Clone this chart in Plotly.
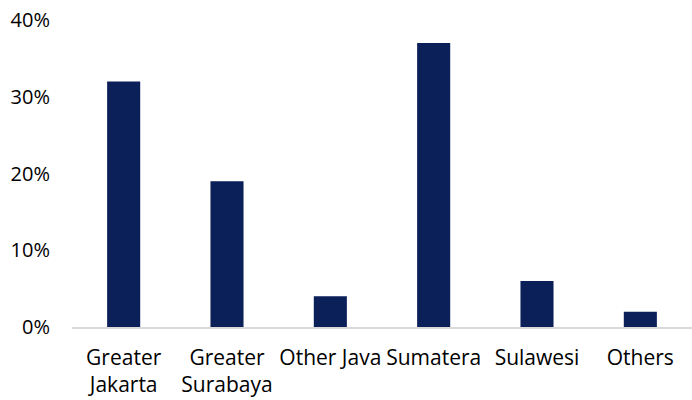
import plotly.graph_objects as go

categories = ["Greater<br>Jakarta", "Greater<br>Surabaya", "Other Java", "Sumatera", "Sulawesi", "Others"]
values = [32, 19, 4, 37, 6, 2]
y_ticks = [0, 10, 20, 30, 40]
y_tick_labels = ["0%", "10%", "20%", "30%", "40%"]

fig = go.Figure(go.Bar(x=categories, y=values, marker=dict(color="#0b1f58", line=dict(width=0)),
                       hoverinfo="skip"))

fig.update_layout(
    width=692, height=400,
    margin=dict(l=72, r=0, t=20, b=73),
    paper_bgcolor="white", plot_bgcolor="white",
    font=dict(family="Open Sans, sans-serif", size=20, color="#000000"),
    bargap=0.68,
    showlegend=False,
)
fig.update_yaxes(range=[0, 40], tickvals=y_ticks, ticktext=y_tick_labels, showgrid=False,
                 zeroline=False, showline=False, ticks="", ticklabelstandoff=21)
fig.update_xaxes(showline=True, linecolor="#d9d9d9", linewidth=1.5, showgrid=False, ticks="",
                 tickangle=0, ticklabelstandoff=11, tickfont=dict(size=21))

fig.write_html("out.html")
